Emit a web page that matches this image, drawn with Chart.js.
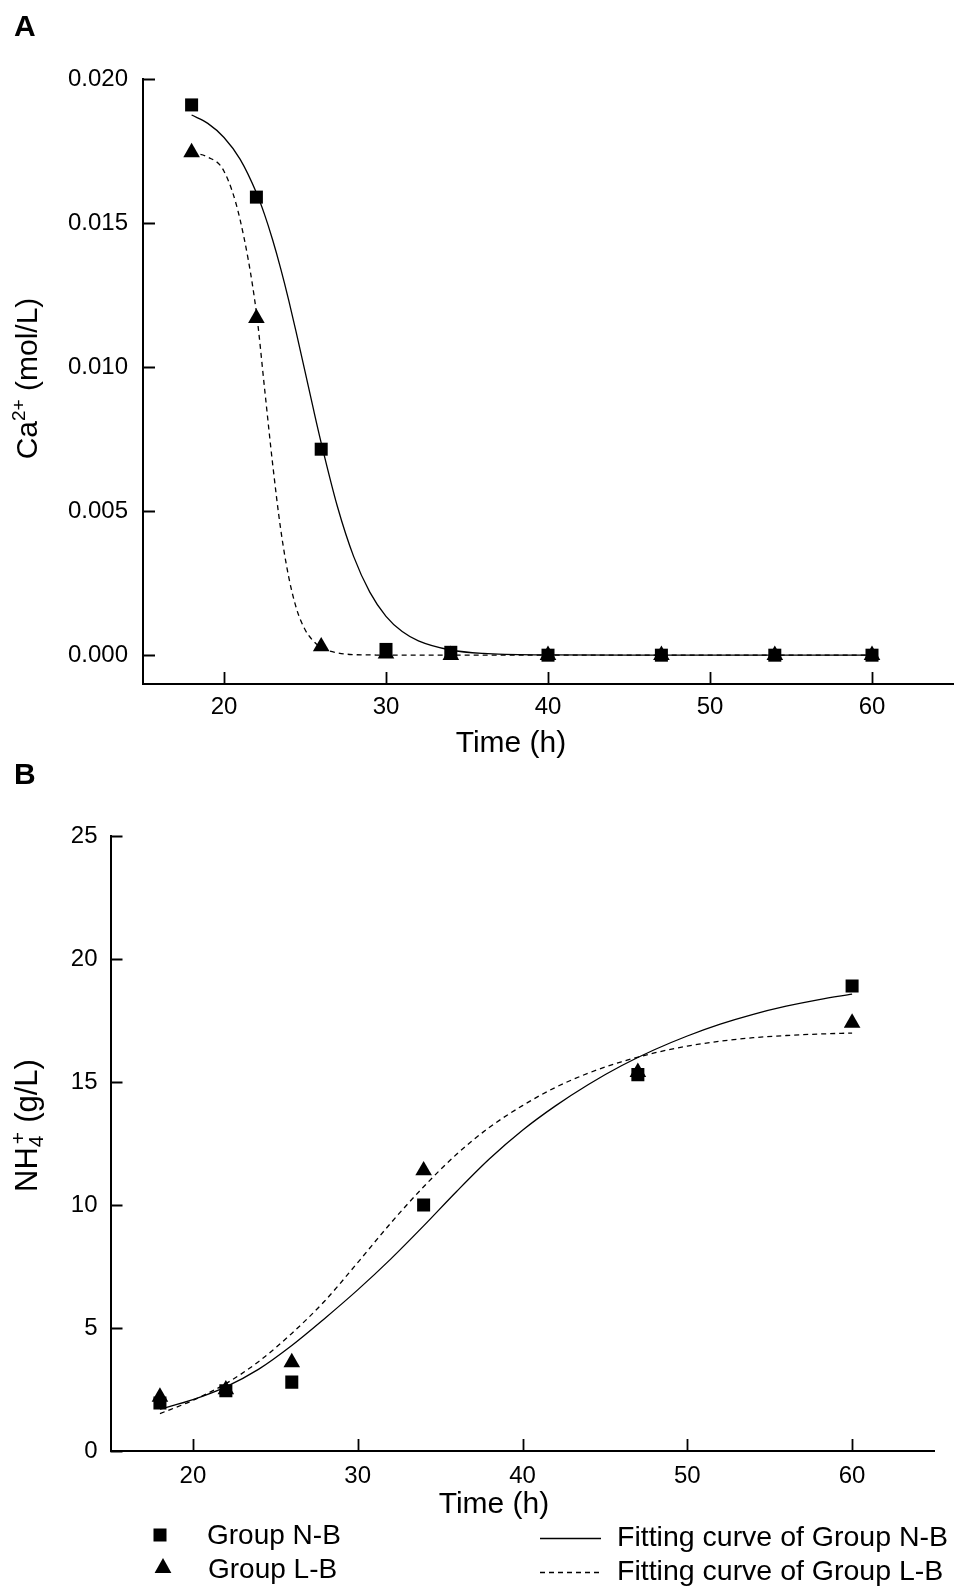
<!DOCTYPE html>
<html>
<head>
<meta charset="utf-8">
<script src="https://cdn.jsdelivr.net/npm/chart.js@4.4.1/dist/chart.umd.min.js"></script>
<style>
html, body { margin: 0; padding: 0; background: #fff; }
#wrapA { position: absolute; left: 0; top: 0; width: 960px; height: 760px; }
#wrapB { position: absolute; left: 0; top: 760px; width: 960px; height: 831px; }
</style>
</head>
<body>
<div id="wrapA"><canvas id="chartA"></canvas></div>
<div id="wrapB"><canvas id="chartB"></canvas></div>
<script>
const FONT = '"Liberation Sans", Arial, Helvetica, sans-serif';

// panel A - Ca2+ (mol/L)
const timesCa = [18, 22, 26, 30, 34, 40, 47, 54, 60];
const caNB = [0.0191, 0.0159, 0.00715, 0.0002, 0.0001, 0, 0, 0, 0];
const caLB = [0.01745, 0.0117, 0.0003, 0.00005, 0, 0, 0, 0, 0];

const fitTimesCa = [18, 19, 20, 21, 22, 22.5, 23, 23.5, 24, 24.5, 25, 25.5, 26, 27, 28, 29, 30, 31, 32, 34, 36, 40, 45, 50, 55, 60];
const fitCaNB = [0.01875, 0.01846, 0.01797, 0.01721, 0.01605, 0.0153, 0.01442, 0.01342, 0.01231, 0.0111, 0.00985, 0.00859, 0.00737, 0.00516, 0.00343, 0.00219, 0.00135, 0.00082, 0.0005, 0.00018, 0.00006, 0.00001, 0, 0, 0, 0];
const fitCaLB = [0.01744, 0.01729, 0.0168, 0.0151, 0.0119, 0.00928, 0.00665, 0.00437, 0.0027, 0.00157, 0.00089, 0.0005, 0.00027, 0.00008, 0.00002, 0.00001, 0, 0, 0, 0, 0, 0, 0, 0, 0, 0];

const caTicks = [0, 0.005, 0.010, 0.015, 0.020];

// panel B - NH4+ (g/L)
const timesNH = [18, 22, 26, 34, 47, 60];
const nhNB = [1.95, 2.45, 2.8, 10.0, 15.3, 18.9];
const nhLB = [2.2, 2.5, 3.6, 11.4, 15.4, 17.4];

const fitTimesNH = [18, 20, 22, 24, 26, 28, 30, 32, 34, 36, 38, 40, 42, 44, 46, 48, 50, 52, 54, 56, 58, 60];
const fitNhNB = [1.70, 2.09, 2.61, 3.33, 4.29, 5.39, 6.55, 7.80, 9.15, 10.55, 11.88, 13.04, 14.03, 14.90, 15.66, 16.31, 16.87, 17.35, 17.75, 18.08, 18.35, 18.57];
const fitNhLB = [1.52, 2.06, 2.74, 3.64, 4.78, 6.10, 7.66, 9.26, 10.74, 12.06, 13.16, 14.04, 14.78, 15.36, 15.82, 16.18, 16.46, 16.66, 16.80, 16.89, 16.95, 16.99];

const nhTicks = [0, 5, 10, 15, 20, 25];
const timeTicks = [20, 30, 40, 50, 60];

const seriesNames = ['Group N-B', 'Group L-B', 'Fitting curve of Group N-B', 'Fitting curve of Group L-B'];

function pts(xs, ys) {
    return xs.map((x, i) => ({ x: x, y: ys[i] }));
}

function makeDatasets(t, nb, lb, ft, fnb, flb) {
    return [
        { label: seriesNames[0], data: pts(t, nb), showLine: false, pointStyle: 'rect', pointRadius: 9.2, backgroundColor: '#000', borderColor: '#000', borderWidth: 0 },
        { label: seriesNames[1], data: pts(t, lb), showLine: false, pointStyle: 'triangle', pointRadius: 9.6, backgroundColor: '#000', borderColor: '#000', borderWidth: 0 },
        { label: seriesNames[2], data: pts(ft, fnb), showLine: true, pointRadius: 0, borderColor: '#000', borderWidth: 1.3, cubicInterpolationMode: 'monotone', fill: false },
        { label: seriesNames[3], data: pts(ft, flb), showLine: true, pointRadius: 0, borderColor: '#000', borderWidth: 1.3, borderDash: [5, 4], cubicInterpolationMode: 'monotone', fill: false }
    ];
}

// ticks point inward on both axes
const inwardTicks = {
    id: 'inwardTicks',
    afterDraw(chart) {
        const { ctx, chartArea, scales } = chart;
        ctx.save();
        ctx.strokeStyle = '#000';
        ctx.lineWidth = 1.8;
        ctx.beginPath();
        scales.x.ticks.forEach(t => {
            const px = Math.round(scales.x.getPixelForValue(t.value)) + 0.5;
            ctx.moveTo(px, chartArea.bottom);
            ctx.lineTo(px, chartArea.bottom - 12);
        });
        scales.y.ticks.forEach(t => {
            const py = Math.round(scales.y.getPixelForValue(t.value)) + 0.5;
            ctx.moveTo(chartArea.left, py);
            ctx.lineTo(chartArea.left + 12, py);
        });
        ctx.stroke();
        ctx.restore();
    }
};

// panel letter, x title and rotated y title with sub/superscripts
const sideText = {
    id: 'sideText',
    afterDraw(chart, args, opts) {
        if (!opts || !opts.parts) return;
        const { ctx, chartArea } = chart;
        ctx.save();
        ctx.fillStyle = '#000';
        ctx.textBaseline = 'alphabetic';
        ctx.font = 'bold 30px ' + FONT;
        ctx.fillText(opts.letter, 14, opts.letterY);

        ctx.font = '30px ' + FONT;
        ctx.textAlign = 'center';
        ctx.textBaseline = 'middle';
        ctx.fillText('Time (h)', opts.xTitleX, opts.xTitleY);
        ctx.textAlign = 'left';
        ctx.textBaseline = 'alphabetic';

        const big = opts.big + 'px ' + FONT;
        const small = opts.small + 'px ' + FONT;
        let total = 0;
        opts.parts.forEach(p => {
            ctx.font = p.kind === 'n' ? big : small;
            p.w = ctx.measureText(p.text).width + (p.gap || 0);
            if (!p.stack) total += p.w;
        });
        ctx.translate(opts.x, (chartArea.top + chartArea.bottom) / 2 + (opts.dy || 0));
        ctx.rotate(-Math.PI / 2);
        let cx = -total / 2;
        let prevW = 0;
        opts.parts.forEach(p => {
            ctx.font = p.kind === 'n' ? big : small;
            let off = 0;
            if (p.kind === 'sup') off = -12;
            if (p.kind === 'sub') off = 6;
            if (p.stack) {
                ctx.fillText(p.text, cx - prevW + 3, 11 + off);
            } else {
                ctx.fillText(p.text, cx, 11 + off);
                cx += p.w;
                prevW = p.w;
            }
        });
        ctx.restore();
    }
};

// 2x2 legend under panel B
const gridLegend = {
    id: 'gridLegend',
    afterDraw(chart, args, opts) {
        if (!opts || !opts.show) return;
        const ctx = chart.ctx;
        ctx.save();
        ctx.fillStyle = '#000';
        ctx.strokeStyle = '#000';
        ctx.font = '28px ' + FONT;
        ctx.textBaseline = 'middle';

        // square marker
        ctx.fillRect(160 - 6.5, 775 - 6.5, 13, 13);
        ctx.fillText(seriesNames[0], 207, 776);
        // triangle marker
        ctx.beginPath();
        ctx.moveTo(163, 798);
        ctx.lineTo(163 + 8.4, 813);
        ctx.lineTo(163 - 8.4, 813);
        ctx.closePath();
        ctx.fill();
        ctx.fillText(seriesNames[1], 208, 810);

        ctx.lineWidth = 1.3;
        ctx.beginPath();
        ctx.moveTo(540, 778.5);
        ctx.lineTo(601, 778.5);
        ctx.stroke();
        ctx.setLineDash([5, 4]);
        ctx.beginPath();
        ctx.moveTo(540, 812.5);
        ctx.lineTo(601, 812.5);
        ctx.stroke();
        ctx.setLineDash([]);
        ctx.font = '28.5px ' + FONT;
        ctx.fillText(seriesNames[2], 617, 778);
        ctx.fillText(seriesNames[3], 617, 812);
        ctx.restore();
    }
};

function makeOptions(cfg) {
    return {
        responsive: true,
        maintainAspectRatio: false,
        animation: false,
        layout: { autoPadding: false, padding: cfg.padding },
        plugins: {
            legend: { display: false },
            tooltip: { enabled: false },
            sideText: cfg.side,
            gridLegend: { show: !!cfg.legend }
        },
        scales: {
            x: {
                type: 'linear',
                min: 15,
                max: 65,
                afterBuildTicks: s => { s.ticks = timeTicks.map(v => ({ value: v })); },
                afterFit: s => { s.height = cfg.xHeight; },
                grid: { display: false, drawTicks: false },
                border: { display: true, color: '#000', width: 2 },
                ticks: { color: '#000', padding: cfg.xPad, font: { family: FONT, size: 24 }, maxRotation: 0 },
                title: { display: false }
            },
            y: {
                type: 'linear',
                min: cfg.yMin,
                max: cfg.yMax,
                afterBuildTicks: s => { s.ticks = cfg.yTicks.map(v => ({ value: v })); },
                afterFit: s => { s.width = cfg.yWidth; },
                grid: { display: false, drawTicks: false },
                border: { display: true, color: '#000', width: 2 },
                ticks: { color: '#000', padding: cfg.yPad, font: { family: FONT, size: 24 }, callback: cfg.fmt }
            }
        }
    };
}

new Chart(document.getElementById('chartA'), {
    type: 'scatter',
    data: { datasets: makeDatasets(timesCa, caNB, caLB, fitTimesCa, fitCaNB, fitCaLB) },
    options: makeOptions({
        padding: { top: 79, right: 7, bottom: 0, left: 0 },
        xHeight: 76, xPad: 9,
        yMin: -0.001, yMax: 0.020, yTicks: caTicks, yWidth: 143, yPad: 15,
        fmt: v => v.toFixed(3),
        side: {
            letter: 'A', letterY: 36, x: 26, dy: -3, xTitleX: 511, xTitleY: 744, big: 30, small: 19,
            parts: [{ kind: 'n', text: 'Ca' }, { kind: 'sup', text: '2+' }, { kind: 'n', text: ' (mol/L)' }]
        }
    }),
    plugins: [inwardTicks, sideText, gridLegend]
});

new Chart(document.getElementById('chartB'), {
    type: 'scatter',
    data: { datasets: makeDatasets(timesNH, nhNB, nhLB, fitTimesNH, fitNhNB, fitNhLB) },
    options: makeOptions({
        padding: { top: 76, right: 25.5, bottom: 0, left: 0 },
        xHeight: 140, xPad: 11,
        yMin: 0, yMax: 25, yTicks: nhTicks, yWidth: 110.5, yPad: 13,
        fmt: v => String(v),
        legend: true,
        side: {
            letter: 'B', letterY: 24, x: 26, dy: -18, xTitleX: 494, xTitleY: 745, big: 31, small: 21,
            parts: [{ kind: 'n', text: 'NH' }, { kind: 'sub', text: '4', gap: 4 }, { kind: 'sup', text: '+', stack: true }, { kind: 'n', text: ' (g/L)' }]
        }
    }),
    plugins: [inwardTicks, sideText, gridLegend]
});
</script>
</body>
</html>
